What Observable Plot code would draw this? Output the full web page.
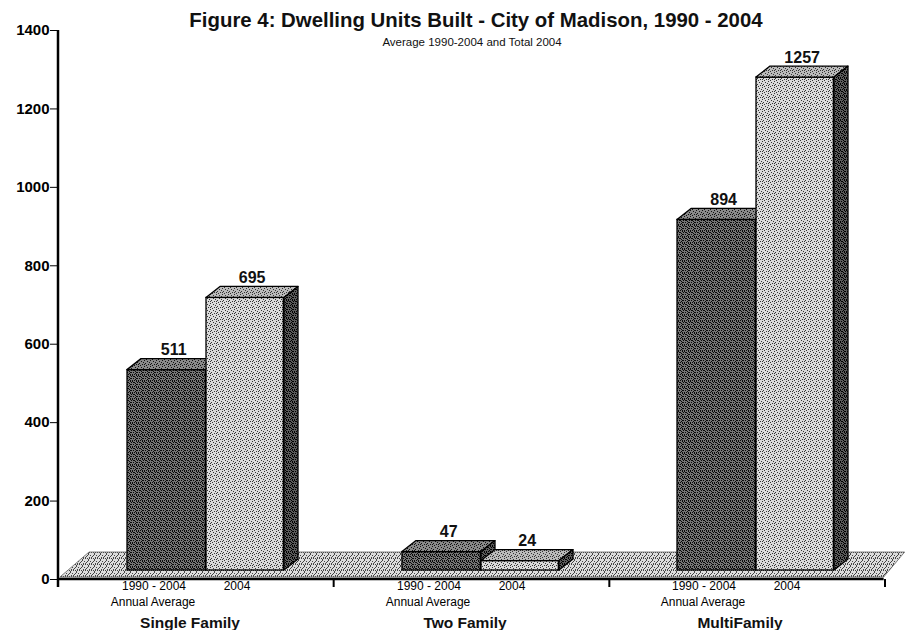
<!DOCTYPE html>
<html><head><meta charset="utf-8">
<script src="https://cdn.jsdelivr.net/npm/d3@7"></script>
<script src="https://cdn.jsdelivr.net/npm/@observablehq/plot@0.6"></script>
<style>
body{margin:0;background:#fff}
#chart svg{display:block}
</style>
</head><body><div id="chart"></div>
<script>
// ---- data ----
const groups = ["Single Family", "Two Family", "MultiFamily"];
const averageValues = [511, 47, 894];      // 1990 - 2004 annual average
const total2004Values = [695, 24, 1257];   // 2004 total
const seriesNames = ["1990 - 2004", "2004"];
const seriesSubLabels = ["Annual Average", ""];
const yTicks = [0, 200, 400, 600, 800, 1000, 1200, 1400];
const titleText = "Figure 4: Dwelling Units Built - City of Madison, 1990 - 2004";
const subtitleText = "Average 1990-2004 and Total 2004";

const rows = groups.flatMap((g, i) => [
  {group: g, series: seriesNames[0], value: averageValues[i], k: 0},
  {group: g, series: seriesNames[1], value: total2004Values[i], k: 1}
]);

// ---- layout (positions within each band) ----
const W = 906, H = 630;
const mL = 57, mR = 22, mT = 30, mB = 51;
const BAND = (W - mL - mR) / groups.length;
const SPAN = [[69, 148], [148, 226]];
const DX = 14, DY = -11, LIFT = 9;
const FONT = "'Liberation Sans', Arial, Helvetica, sans-serif";
const NARROW = "'Liberation Sans Narrow', 'Arial Narrow', 'Liberation Sans', Arial, sans-serif";

function tile(id, bg, fg, pts) {
  let s = `<pattern id="${id}" width="6" height="6" patternUnits="userSpaceOnUse"><rect width="6" height="6" fill="${bg}"/>`;
  for (const [a, b] of pts) s += `<rect x="${a}" y="${b}" width="1" height="1" fill="${fg}"/>`;
  return s + `</pattern>`;
}
const ptsDense = [[0,0],[2,1],[4,0],[1,3],[3,2],[5,3],[0,5],[3,4],[4,5],[2,5],[5,1],[1,1],[4,3]];
const ptsSparse = [[0,0],[3,1],[1,3],[4,4],[2,5],[5,2],[0,4]];
const ptsFloor = [[1,0],[4,1],[0,3],[3,3],[5,5],[2,4],[4,2],[1,5],[5,0],[3,0]];

function floorMark(index, scales) {
  const x = scales.x, y = scales.y;
  const x0 = x(groups[0]), x1 = x(groups[groups.length - 1]) + BAND;
  const y0 = y(0);
  const g = d3.create("svg:g");
  g.append("defs").html(
    tile("pDark", "#767676", "#0a0a0a", ptsDense) +
    tile("pLight", "#dadada", "#333", ptsSparse) +
    tile("pFloor", "#dcdcdc", "#444", ptsFloor) +
    tile("pSide", "#5c5c5c", "#000", ptsDense) +
    tile("pTopDark", "#8a8a8a", "#111", ptsSparse) +
    tile("pTopLight", "#bbbbbb", "#333", ptsSparse)
  );
  g.append("path")
    .attr("d", `M${x0 + 2},${y0 - 2}L${x0 + 31},${y0 - 27}L${x1 + 21},${y0 - 27}L${x1},${y0 - 2}Z`)
    .attr("fill", "url(#pFloor)").attr("stroke", "#666").attr("stroke-width", 0.8);
  return g.node();
}

function facesMark(k) {
  return (index, scales) => {
    const x = scales.x, y = scales.y;
    const g = d3.create("svg:g");
    for (const r of rows.filter(d => d.k === k)) {
      const [a, b] = SPAN[k];
      const x0 = x(r.group) + a, x1 = x(r.group) + b;
      const yt = y(r.value) - LIFT, yb = y(0) - LIFT;
      g.append("path")
        .attr("d", `M${x0},${yt}L${x0 + DX},${yt + DY}L${x1 + DX},${yt + DY}L${x1},${yt}Z`)
        .attr("fill", k === 0 ? "url(#pTopDark)" : "url(#pTopLight)")
        .attr("stroke", "#000").attr("stroke-width", 1.3).attr("stroke-linejoin", "round");
      g.append("path")
        .attr("d", `M${x1},${yt}L${x1 + DX},${yt + DY}L${x1 + DX},${yb + DY}L${x1},${yb}Z`)
        .attr("fill", "url(#pSide)")
        .attr("stroke", "#000").attr("stroke-width", 1.3).attr("stroke-linejoin", "round");
    }
    return g.node();
  };
}

function axesMark(index, scales) {
  const x = scales.x, y = scales.y;
  const x0 = x(groups[0]);
  const y0 = y(0);
  const g = d3.create("svg:g").attr("stroke", "#000").attr("fill", "none");
  g.append("line").attr("x1", x0).attr("x2", x0).attr("y1", y(yTicks[yTicks.length - 1])).attr("y2", y0 + 8).attr("stroke-width", 2.5);
  g.append("line").attr("x1", x0).attr("x2", x(groups[groups.length - 1]) + BAND).attr("y1", y0).attr("y2", y0).attr("stroke-width", 2.5);
  for (let i = 1; i <= groups.length; i++) {
    const xb = x0 + i * BAND;
    g.append("line").attr("x1", xb).attr("x2", xb).attr("y1", y0).attr("y2", y0 + 8).attr("stroke-width", 2);
  }
  return g.node();
}

const barCenter = k => (SPAN[k][0] + SPAN[k][1]) / 2 + DX / 2 - BAND / 2;

const marks = [floorMark];
for (const k of [0, 1]) {
  marks.push(Plot.barY(rows.filter(d => d.k === k), {
    x: "group", y: "value",
    insetLeft: SPAN[k][0], insetRight: BAND - SPAN[k][1],
    dy: -LIFT,
    fill: k === 0 ? "url(#pDark)" : "url(#pLight)",
    stroke: "#000", strokeWidth: 1.3
  }));
  marks.push(facesMark(k));
}
marks.push(axesMark);
for (const k of [0, 1]) {
  marks.push(Plot.text(rows.filter(d => d.k === k), {
    x: "group", y: "value", text: d => String(d.value),
    dx: barCenter(k), dy: -24, lineAnchor: "bottom",
    fontSize: 16, fontWeight: "bold", fontFamily: FONT, fill: "#111"
  }));
  marks.push(Plot.text(groups, {
    x: d => d, text: () => seriesNames[k], frameAnchor: "bottom", lineAnchor: "middle",
    dx: k === 0 ? -42 : 41, dy: 7, fontSize: 12, fontFamily: NARROW, fontWeight: "normal", fill: "#000"
  }));
  if (seriesSubLabels[k]) {
    marks.push(Plot.text(groups, {
      x: d => d, text: () => seriesSubLabels[k], frameAnchor: "bottom", lineAnchor: "middle",
      dx: -43, dy: 23, fontSize: 12, fontFamily: NARROW, fontWeight: "normal", fill: "#000"
    }));
  }
}
marks.push(Plot.text(groups, {
  x: d => d, text: d => d, frameAnchor: "bottom", lineAnchor: "middle",
  dx: -6, dy: 44, fontSize: 15.5, fontWeight: "bold", fontFamily: NARROW, fill: "#111"
}));
marks.push(Plot.text([titleText], {
  text: d => d, frameAnchor: "top", lineAnchor: "middle", dx: 5, dy: -10,
  fontSize: 20.4, fontWeight: "bold", fontFamily: FONT, fill: "#111"
}));
marks.push(Plot.text([subtitleText], {
  text: d => d, frameAnchor: "top", lineAnchor: "middle", dx: 1, dy: 12,
  fontSize: 11.5, fontWeight: "normal", fontFamily: FONT, fill: "#111"
}));

const chart = Plot.plot({
  width: W, height: H,
  marginLeft: mL, marginRight: mR, marginTop: mT, marginBottom: mB,
  style: {fontFamily: FONT, fontSize: "15px", fontWeight: "bold", color: "#000", background: "#fff", overflow: "visible"},
  x: {domain: groups, padding: 0, axis: null},
  y: {domain: [0, 1400], ticks: yTicks, tickSize: 7, tickPadding: 1, label: null, tickFormat: d => String(d)},
  marks
});
document.getElementById("chart").appendChild(chart);
</script>
</body></html>
